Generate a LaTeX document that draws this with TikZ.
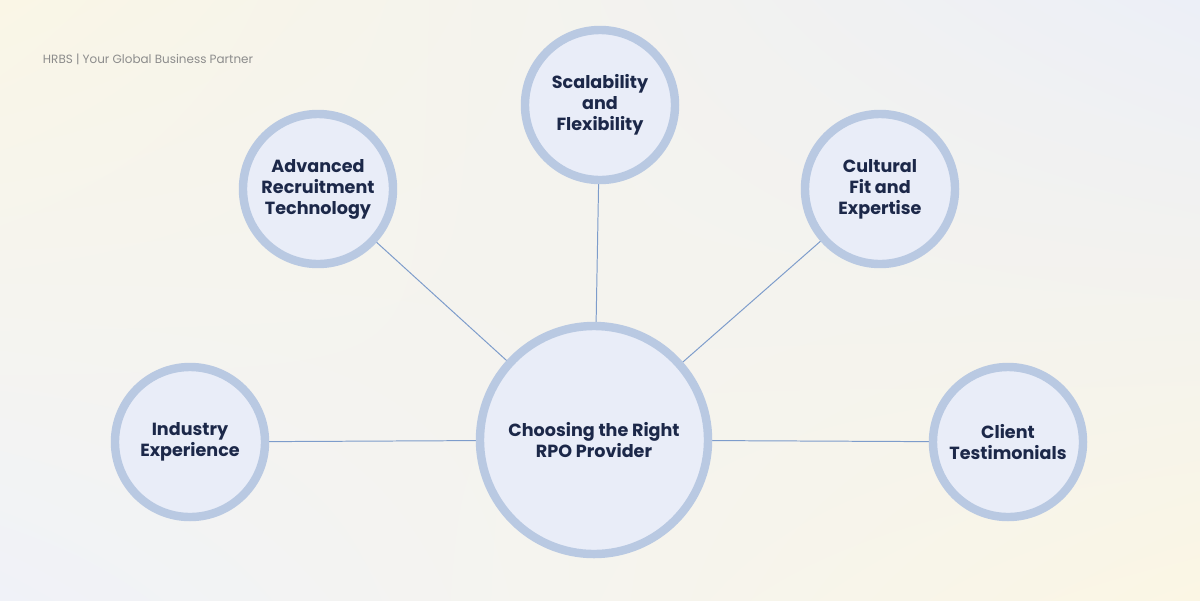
\documentclass[tikz,border=0pt]{standalone}
\usepackage{fontspec}
\setmainfont{Poppins}
\usetikzlibrary{shadings}
\definecolor{ringc}{HTML}{B9C9E2}
\definecolor{fillc}{HTML}{E9EDF8}
\definecolor{txt}{HTML}{1C2849}
\definecolor{linec}{HTML}{7D9CCB}
\definecolor{bgul}{HTML}{FAF6E6}
\definecolor{bgur}{HTML}{ECEFF7}
\definecolor{bgll}{HTML}{F0F2F8}
\definecolor{bglr}{HTML}{FBF6E4}
\begin{document}
\begin{tikzpicture}[x=0.025cm,y=-0.025cm,
  bubble/.style={circle,draw=ringc,line width=6pt,fill=fillc,text=txt,font=\bfseries\fontsize{12.5}{15}\selectfont,align=center,inner sep=0pt},
  link/.style={draw=linec,line width=0.7pt}]
\shade[upper left=bgul,upper right=bgur,lower left=bgll,lower right=bglr] (0,0) rectangle (1200,600);
\useasboundingbox (0,0) rectangle (1200,600);
\node[anchor=west,text=gray!90,font=\fontsize{8.5}{10}\selectfont] (brand) at (38,59) {HRBS | Your Global Business Partner};
\draw[link] (594,440) -- (600,105);
\draw[link] (594,440) -- (318,189);
\draw[link] (594,440) -- (880,189);
\draw[link] (594,440) -- (190,442);
\draw[link] (594,440) -- (1008,442);
\node[bubble,minimum size=5.7cm] (c) at (594,440) {Choosing the Right\\RPO Provider};
\node[bubble,minimum size=3.75cm] (s) at (600,105) {Scalability\\and\\Flexibility};
\node[bubble,minimum size=3.75cm] (a) at (318,189) {Advanced\\Recruitment\\Technology};
\node[bubble,minimum size=3.75cm] (f) at (880,189) {Cultural\\Fit and\\Expertise};
\node[bubble,minimum size=3.75cm] (i) at (190,442) {Industry\\Experience};
\node[bubble,minimum size=3.75cm] (t) at (1008,442) {Client\\Testimonials};
\end{tikzpicture}
\end{document}
